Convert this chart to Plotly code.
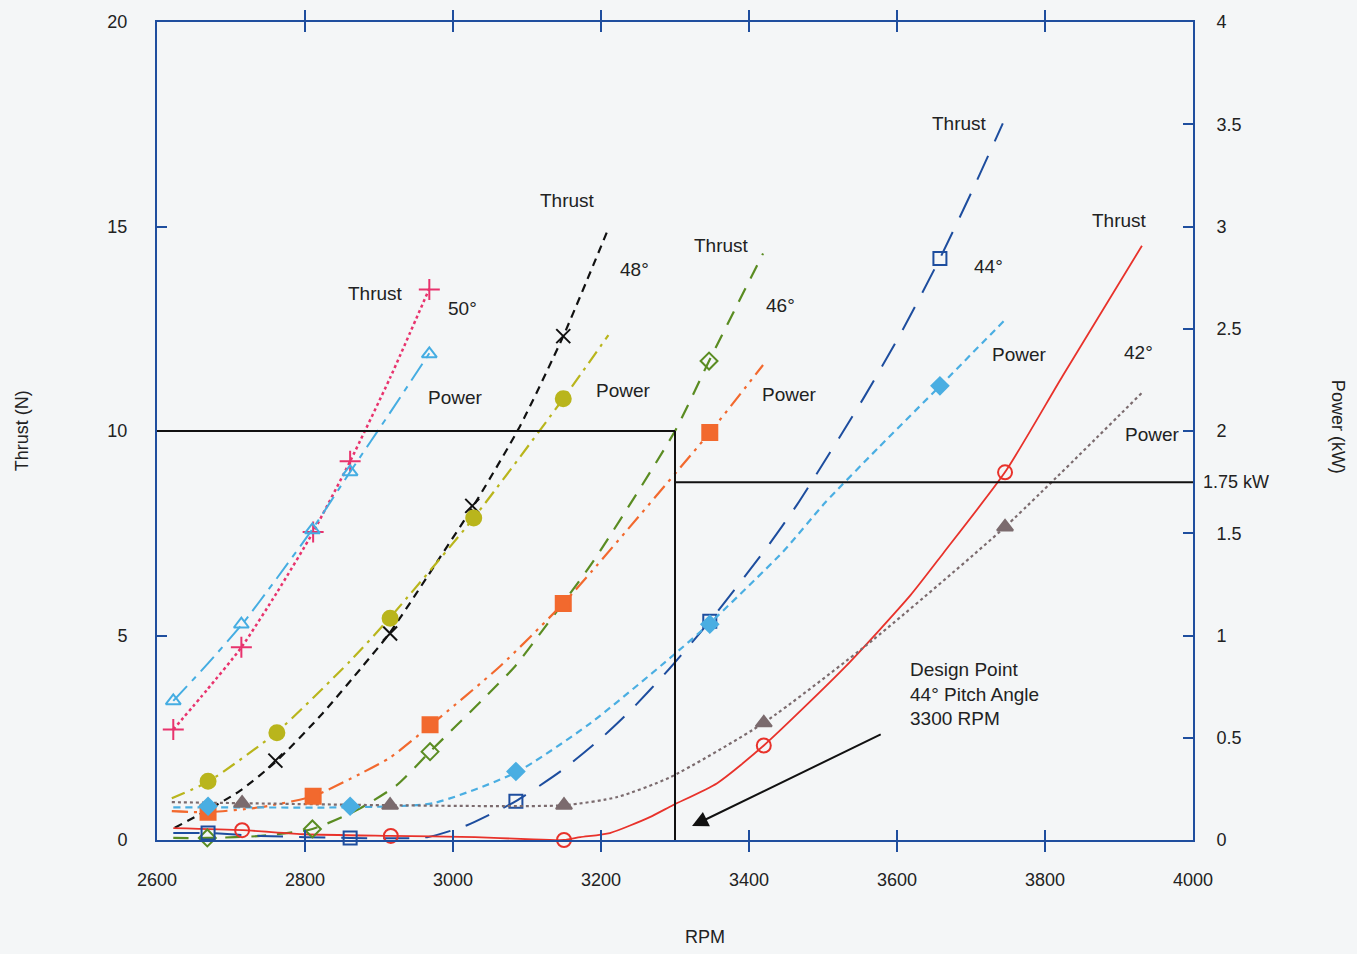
import plotly.graph_objects as go

# ---- fitted curves (RPM, value) ----
rpm_t50 = [2622, 2668, 2714, 2762, 2811, 2861, 2915, 2968]
thr_t50 = [2.70, 3.68, 4.71, 6.05, 7.53, 9.26, 11.30, 13.48]
rpm_p50 = [2622, 2668, 2715, 2762, 2810, 2861, 2915, 2968]
pow_p50 = [0.68, 0.86, 1.055, 1.28, 1.52, 1.80, 2.09, 2.38]

rpm_t48 = [2624, 2660, 2712, 2761, 2824, 2878, 2914, 2982, 3027, 3090, 3149, 3210]
thr_t48 = [0.30, 0.65, 1.20, 1.92, 3.10, 4.25, 5.05, 6.90, 8.15, 10.10, 12.32, 14.95]
rpm_p48 = [2620, 2669, 2761, 2861, 2914, 3028, 3149, 3210]
pow_p48 = [0.204, 0.285, 0.525, 0.875, 1.084, 1.575, 2.158, 2.469]

rpm_t46 = [2622, 2668, 2740, 2810, 2870, 2924, 2969, 3041, 3084, 3120, 3189, 3300, 3346, 3419]
thr_t46 = [0.05, 0.05, 0.10, 0.27, 0.73, 1.34, 2.16, 3.45, 4.25, 5.10, 6.80, 10.0, 11.71, 14.34]
rpm_p46 = [2620, 2669, 2739, 2811, 2878, 2915, 2969, 3064, 3149, 3189, 3347, 3419]
pow_p46 = [0.141, 0.136, 0.16, 0.214, 0.33, 0.403, 0.559, 0.851, 1.157, 1.32, 1.993, 2.323]

rpm_t44 = [2622, 2669, 2740, 2861, 2965, 3019, 3053, 3085, 3147, 3204, 3239, 3293, 3347, 3422,
           3465, 3555, 3607, 3658, 3701, 3743]
thr_t44 = [0.17, 0.17, 0.10, 0.05, 0.07, 0.36, 0.65, 0.95, 1.70, 2.55, 3.15, 4.20, 5.35, 7.10,
           8.20, 10.81, 12.45, 14.22, 15.85, 17.52]
rpm_p44 = [2622, 2669, 2862, 2973, 3085, 3185, 3293, 3347, 3446, 3503, 3574, 3658, 3745]
pow_p44 = [0.16, 0.16, 0.16, 0.18, 0.33, 0.569, 0.889, 1.06, 1.41, 1.65, 1.915, 2.22, 2.54]

rpm_t42 = [2622, 2716, 2800, 2915, 3030, 3100, 3150, 3172, 3212, 3266, 3297, 3357, 3420, 3531,
           3618, 3662, 3747, 3824, 3931]
thr_t42 = [0.29, 0.24, 0.14, 0.10, 0.07, 0.02, 0.0, 0.07, 0.17, 0.56, 0.85, 1.39, 2.31, 4.25,
           5.98, 7.00, 9.02, 11.35, 14.53]
rpm_p42 = [2620, 2715, 2915, 3150, 3222, 3293, 3420, 3568, 3746, 3931]
pow_p42 = [0.185, 0.18, 0.17, 0.17, 0.21, 0.306, 0.573, 0.98, 1.531, 2.187]

# ---- measured points ----
mk_rpm_t50 = [2622, 2714, 2811, 2861, 2968]
mk_thr_t50 = [2.70, 4.71, 7.53, 9.26, 13.46]
mk_rpm_p50 = [2622, 2714, 2810, 2861, 2968]
mk_pow_p50 = [0.68, 1.055, 1.516, 1.80, 2.377]

mk_rpm_t48 = [2760, 2915, 3026, 3149]
mk_thr_t48 = [1.94, 5.05, 8.17, 12.32]
mk_rpm_p48 = [2669, 2762, 2915, 3028, 3149]
mk_pow_p48 = [0.287, 0.525, 1.084, 1.575, 2.158]

mk_rpm_t46 = [2668, 2810, 2969, 3346]
mk_thr_t46 = [0.05, 0.27, 2.16, 11.71]
mk_rpm_p46 = [2669, 2811, 2969, 3149, 3347]
mk_pow_p46 = [0.136, 0.214, 0.564, 1.157, 1.993]

mk_rpm_t44 = [2669, 2861, 3085, 3347, 3658]
mk_thr_t44 = [0.17, 0.05, 0.95, 5.35, 14.22]
mk_rpm_p44 = [2669, 2861, 3085, 3347, 3658]
mk_pow_p44 = [0.165, 0.165, 0.335, 1.055, 2.221]

mk_rpm_t42 = [2715, 2916, 3150, 3420, 3746]
mk_thr_t42 = [0.24, 0.10, 0.0, 2.31, 8.99]
mk_rpm_p42 = [2715, 2915, 3150, 3420, 3746]
mk_pow_p42 = [0.18, 0.17, 0.17, 0.573, 1.531]

x_ticks = [2600, 2800, 3000, 3200, 3400, 3600, 3800, 4000]

FONT = "Liberation Sans, Arial, sans-serif"
AXIS_BLUE = "#1f4e9e"
BG = "#f4f6f7"
TXT = "#222222"

fig = go.Figure()


def curve(x, y, color, dash, width=2.0, axis="y"):
    fig.add_trace(go.Scatter(x=x, y=y, mode="lines", yaxis=axis, showlegend=False,
                             line=dict(color=color, dash=dash, width=width, shape="spline",
                                       smoothing=0.6),
                             hoverinfo="skip"))


def points(x, y, color, symbol, size, axis="y"):
    fig.add_trace(go.Scatter(x=x, y=y, mode="markers", yaxis=axis, showlegend=False,
                             cliponaxis=False,
                             marker=dict(symbol=symbol, size=size, color=color,
                                         line=dict(color=color, width=2))))


# 50 deg
curve(rpm_t50, thr_t50, "#e8336d", "dot", 2.5)
curve(rpm_p50, pow_p50, "#45ade2", "20px,7px,6px,7px", 2.0, "y2")
# 48 deg
curve(rpm_t48, thr_t48, "#111111", "8px,6px", 2.2)
curve(rpm_p48, pow_p48, "#b9b51c", "14px,6px,3px,6px", 2.2, "y2")
# 46 deg
curve(rpm_t46, thr_t46, "#5a8c22", "15px,11px", 2.2)
curve(rpm_p46, pow_p46, "#f2692e", "16px,6px,3px,6px,3px,6px", 2.2, "y2")
# 44 deg
curve(rpm_t44, thr_t44, "#1d4d9e", "26px,16px", 2.0)
curve(rpm_p44, pow_p44, "#4aaee2", "7px,5px", 2.2, "y2")
# 42 deg
curve(rpm_t42, thr_t42, "#e8322b", "solid", 1.8)
curve(rpm_p42, pow_p42, "#7b6b6e", "dot", 2.2, "y2")

points(mk_rpm_t50, mk_thr_t50, "#e8336d", "cross-thin-open", 15)
points(mk_rpm_p50, mk_pow_p50, "#45ade2", "triangle-up-open", 13, "y2")
points(mk_rpm_t48, mk_thr_t48, "#111111", "x-thin-open", 14)
points(mk_rpm_p48, mk_pow_p48, "#b9b51c", "circle", 15, "y2")
points(mk_rpm_t46, mk_thr_t46, "#5a8c22", "diamond-open", 13)
points(mk_rpm_p46, mk_pow_p46, "#f2692e", "square", 15, "y2")
points(mk_rpm_t44, mk_thr_t44, "#1d4d9e", "square-open", 13)
points(mk_rpm_p44, mk_pow_p44, "#4aaee2", "diamond", 13, "y2")
points(mk_rpm_t42, mk_thr_t42, "#e8322b", "circle-open", 14)
points(mk_rpm_p42, mk_pow_p42, "#7b6b6e", "triangle-up", 14, "y2")

# design point guide lines
design_rpm = 3300
design_thrust = 10
design_power = 1.75
fig.add_shape(type="line", xref="x", yref="y", x0=2600, x1=design_rpm, y0=design_thrust,
              y1=design_thrust, line=dict(color="#111111", width=2))
fig.add_shape(type="line", xref="x", yref="y", x0=design_rpm, x1=design_rpm, y0=0,
              y1=design_thrust, line=dict(color="#111111", width=2))
fig.add_shape(type="line", xref="x", yref="y2", x0=design_rpm, x1=4000, y0=design_power,
              y1=design_power, line=dict(color="#111111", width=2))

labels = [
    ("Thrust", 2895, 13.37), ("50°", 3013, 13.0), ("Power", 3003, 10.81),
    ("Thrust", 3155, 15.63), ("48°", 3245, 13.95), ("Power", 3231, 10.98),
    ("Thrust", 3363, 14.53), ("46°", 3443, 13.07), ("Power", 3455, 10.89),
    ("Thrust", 3685, 17.52), ("44°", 3723, 14.02), ("Power", 3766, 11.88),
    ("Thrust", 3900, 15.14), ("42°", 3927, 11.91), ("Power", 3945, 9.91),
]
for txt, lx, ly in labels:
    fig.add_annotation(x=lx, y=ly, xref="x", yref="y", text=txt, showarrow=False,
                       font=dict(family=FONT, size=19, color=TXT))

fig.add_annotation(x=3615, y=3.57, xref="x", yref="y", xanchor="left", yanchor="middle",
                   align="left", showarrow=False,
                   text="Design Point<br>44° Pitch Angle<br>3300 RPM",
                   font=dict(family=FONT, size=19, color=TXT))
fig.add_annotation(x=3323, y=0.34, ax=3580, ay=2.60, xref="x", yref="y", axref="x", ayref="y",
                   text="", showarrow=True, arrowhead=2, arrowsize=1.6, arrowwidth=2,
                   arrowcolor="#111111")
fig.add_annotation(x=1.008, y=design_power, xref="paper", yref="y2", xanchor="left",
                   text="1.75 kW", showarrow=False,
                   font=dict(family=FONT, size=18, color=TXT))

# axis titles
fig.add_annotation(x=-0.13, y=0.5, xref="paper", yref="paper", xanchor="center",
                   yanchor="middle", text="Thrust (N)", showarrow=False, textangle=-90,
                   font=dict(family=FONT, size=18, color=TXT))
fig.add_annotation(x=1.140, y=0.505, xref="paper", yref="paper", xanchor="center",
                   yanchor="middle", text="Power (kW)", showarrow=False, textangle=90,
                   font=dict(family=FONT, size=18, color=TXT))
fig.add_annotation(x=0.529, y=-0.118, xref="paper", yref="paper", xanchor="center",
                   yanchor="middle", text="RPM", showarrow=False,
                   font=dict(family=FONT, size=18, color=TXT))

tick_font = dict(family=FONT, size=18, color=TXT)
fig.update_layout(
    width=1357, height=954,
    margin=dict(l=157, r=164, t=14, b=114),
    paper_bgcolor=BG, plot_bgcolor=BG,
    showlegend=False,
    xaxis=dict(range=[2600, 4000], tickvals=x_ticks, ticks="inside", ticklen=10,
               tickwidth=2, tickcolor=AXIS_BLUE, showline=True, linecolor=AXIS_BLUE,
               linewidth=2, mirror="allticks", showgrid=False, zeroline=False,
               tickfont=tick_font, ticklabelstandoff=22),
    yaxis=dict(range=[0, 20], tickvals=[0, 5, 10, 15, 20], ticks="inside", ticklen=10,
               tickwidth=2, tickcolor=AXIS_BLUE, showline=True, linecolor=AXIS_BLUE,
               linewidth=2, showgrid=False, zeroline=False, tickfont=tick_font,
               ticklabelstandoff=24),
    yaxis2=dict(range=[0, 4], tickvals=[0, 0.5, 1, 1.5, 2, 2.5, 3, 3.5, 4],
                ticktext=["0", "0.5", "1", "1.5", "2", "2.5", "3", "3.5", "4"],
                overlaying="y", side="right", ticks="inside", ticklen=10, tickwidth=2,
                tickcolor=AXIS_BLUE, showline=True, linecolor=AXIS_BLUE, linewidth=2,
                showgrid=False, zeroline=False, tickfont=tick_font, ticklabelstandoff=18),
)

fig.write_html("out.html")
